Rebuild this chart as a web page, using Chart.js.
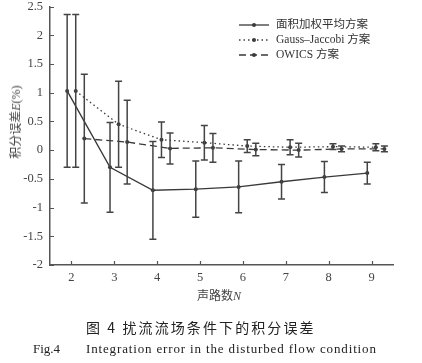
<!DOCTYPE html>
<html>
<head>
<meta charset="utf-8">
<script src="https://cdn.jsdelivr.net/npm/chart.js@4.4.1/dist/chart.umd.min.js"></script>
<style>
    body { margin: 0; background: #fff; }
    #wrap { position: relative; width: 422px; height: 363px; overflow: hidden; font-family: "Liberation Serif", "Noto Sans CJK SC", serif; color: #333; }
    #grafico { position: absolute; left: 0; top: -8px; }
    .txt { position: absolute; white-space: nowrap; }
    #titulo-y { left: 15px; top: 122px; transform: translate(-50%, -50%) rotate(-90deg); font-size: 12px; color: #444; }
    #titulo-x { left: 219px; top: 295px; transform: translate(-50%, -50%); font-size: 12px; color: #444; }
    #legenda { position: absolute; left: 238px; top: 17px; font-size: 11.5px; color: #333; }
    #legenda div { height: 15px; line-height: 15px; display: flex; align-items: center; }
    #legenda svg { margin-right: 6px; }
    #cap-cn { left: 86px; top: 317px; font-size: 14px; letter-spacing: 2.1px; font-family: "Noto Sans CJK SC", sans-serif; color: #222; }
    #cap-fig { left: 33px; top: 341px; font-size: 13px; color: #222; }
    #cap-en { left: 86px; top: 341px; font-size: 13px; letter-spacing: 0.85px; color: #222; }
</style>
</head>
<body>
<div id="wrap">
    <canvas id="grafico" width="422" height="318"></canvas>
    <div class="txt" id="titulo-y">积分误差<i>E</i>(%)</div>
    <div class="txt" id="titulo-x">声路数<i>N</i></div>
    <div id="legenda"></div>
    <div class="txt" id="cap-cn">图 4 扰流流场条件下的积分误差</div>
    <div class="txt" id="cap-fig">Fig.4</div>
    <div class="txt" id="cap-en">Integration error in the disturbed flow condition</div>
</div>
<script>
const numeroCaminhos = [2, 3, 4, 5, 6, 7, 8, 9];
const yTicks = [-2, -1.5, -1, -0.5, 0, 0.5, 1, 1.5, 2, 2.5];

const nomesSeries = ['面积加权平均方案', 'Gauss–Jaccobi 方案', 'OWICS 方案'];

const mediaArea = [1.03, -0.30, -0.70, -0.68, -0.64, -0.55, -0.47, -0.40];
const erroArea = [1.33, 0.78, 0.85, 0.49, 0.45, 0.30, 0.27, 0.19];

const mediaGauss = [1.03, 0.45, 0.18, 0.13, 0.07, 0.05, 0.06, 0.05];
const erroGauss = [1.33, 0.75, 0.31, 0.30, 0.11, 0.13, 0.05, 0.06];

const mediaOwics = [0.20, 0.14, 0.03, 0.04, 0.01, 0.00, 0.02, 0.02];
const erroOwics = [1.12, 0.73, 0.27, 0.25, 0.11, 0.12, 0.05, 0.05];

// deslocamento horizontal de cada serie em torno do valor de N
const deslocamentos = [-0.1, 0.1, 0.3];
const tracos = [[], [1.5, 3], [7, 4]];
const corLinha = '#3a3a3a';

function montaSerie(idx, medias, erros) {
    return {
        label: nomesSeries[idx],
        data: numeroCaminhos.map((n, i) => ({ x: n + deslocamentos[idx], y: medias[i], erro: erros[i] })),
        borderColor: corLinha,
        backgroundColor: corLinha,
        borderWidth: idx == 0 ? 1.4 : 1.3,
        borderDash: tracos[idx],
        pointRadius: 2,
        pointBorderWidth: 0,
        tension: 0,
        fill: false
    };
}

var datasets = [
    montaSerie(0, mediaArea, erroArea),
    montaSerie(1, mediaGauss, erroGauss),
    montaSerie(2, mediaOwics, erroOwics)
];

// barras de erro + ticks para dentro
const pluginErros = {
    id: 'barrasErro',
    afterDatasetsDraw(chart) {
        var ctx = chart.ctx;
        var sx = chart.scales.x, sy = chart.scales.y;
        ctx.save();
        ctx.strokeStyle = '#444';
        ctx.lineWidth = 1.5;
        ctx.setLineDash([]);
        chart.data.datasets.forEach(ds => {
            ds.data.forEach(p => {
                let x = sx.getPixelForValue(p.x);
                let y1 = sy.getPixelForValue(p.y + p.erro);
                let y2 = sy.getPixelForValue(p.y - p.erro);
                ctx.beginPath();
                ctx.moveTo(x, y1); ctx.lineTo(x, y2);
                ctx.moveTo(x - 3.5, y1); ctx.lineTo(x + 3.5, y1);
                ctx.moveTo(x - 3.5, y2); ctx.lineTo(x + 3.5, y2);
                ctx.stroke();
            });
        });
        ctx.restore();
    },
    afterDraw(chart) {
        var ctx = chart.ctx;
        var sx = chart.scales.x, sy = chart.scales.y;
        ctx.save();
        ctx.strokeStyle = '#555';
        ctx.lineWidth = 1.2;
        ctx.beginPath();
        sx.ticks.forEach(t => {
            let x = Math.round(sx.getPixelForValue(t.value)) + 0.5;
            ctx.moveTo(x, sx.top); ctx.lineTo(x, sx.top - 4);
        });
        sy.ticks.forEach(t => {
            let y = Math.round(sy.getPixelForValue(t.value)) + 0.5;
            ctx.moveTo(sy.right, y); ctx.lineTo(sy.right + 4, y);
        });
        ctx.stroke();
        ctx.restore();
    }
};

var ctx = document.getElementById('grafico').getContext('2d');
window.grafico = new Chart(ctx, {
    type: 'line',
    data: { datasets: datasets },
    options: {
        responsive: false,
        animation: false,
        layout: { padding: { left: 0, right: 29, top: 6, bottom: 0 } },
        plugins: { legend: { display: false }, tooltip: { enabled: false } },
        scales: {
            x: {
                type: 'linear',
                min: 1.5,
                max: 9.5,
                afterBuildTicks: axis => { axis.ticks = numeroCaminhos.map(v => ({ value: v })); },
                afterFit: axis => { axis.height = 45; },
                grid: { display: false, drawTicks: false },
                border: { display: true, color: '#555', width: 1.5 },
                ticks: { color: '#444', padding: 5, font: { family: 'Liberation Serif', size: 12.5 } }
            },
            y: {
                min: -2,
                max: 2.5,
                afterBuildTicks: axis => { axis.ticks = yTicks.map(v => ({ value: v })); },
                afterFit: axis => { axis.width = 50; },
                grid: { display: false, drawTicks: false },
                border: { display: true, color: '#555', width: 1.5 },
                ticks: { color: '#444', padding: 7, font: { family: 'Liberation Serif', size: 12.5 }, callback: v => String(v) }
            }
        }
    },
    plugins: [pluginErros]
});

// legenda em html
function amostraLegenda(idx) {
    let dash = tracos[idx].length ? `stroke-dasharray="${tracos[idx].join(',')}"` : '';
    return `<svg width="32" height="8"><line x1="1" y1="4" x2="31" y2="4" stroke="${corLinha}" stroke-width="1.3" ${dash}/><circle cx="16" cy="4" r="2" fill="${corLinha}"/></svg>`;
}
document.getElementById('legenda').innerHTML = nomesSeries.map((n, i) => `<div>${amostraLegenda(i)}<span>${n}</span></div>`).join('');
</script>
</body>
</html>
